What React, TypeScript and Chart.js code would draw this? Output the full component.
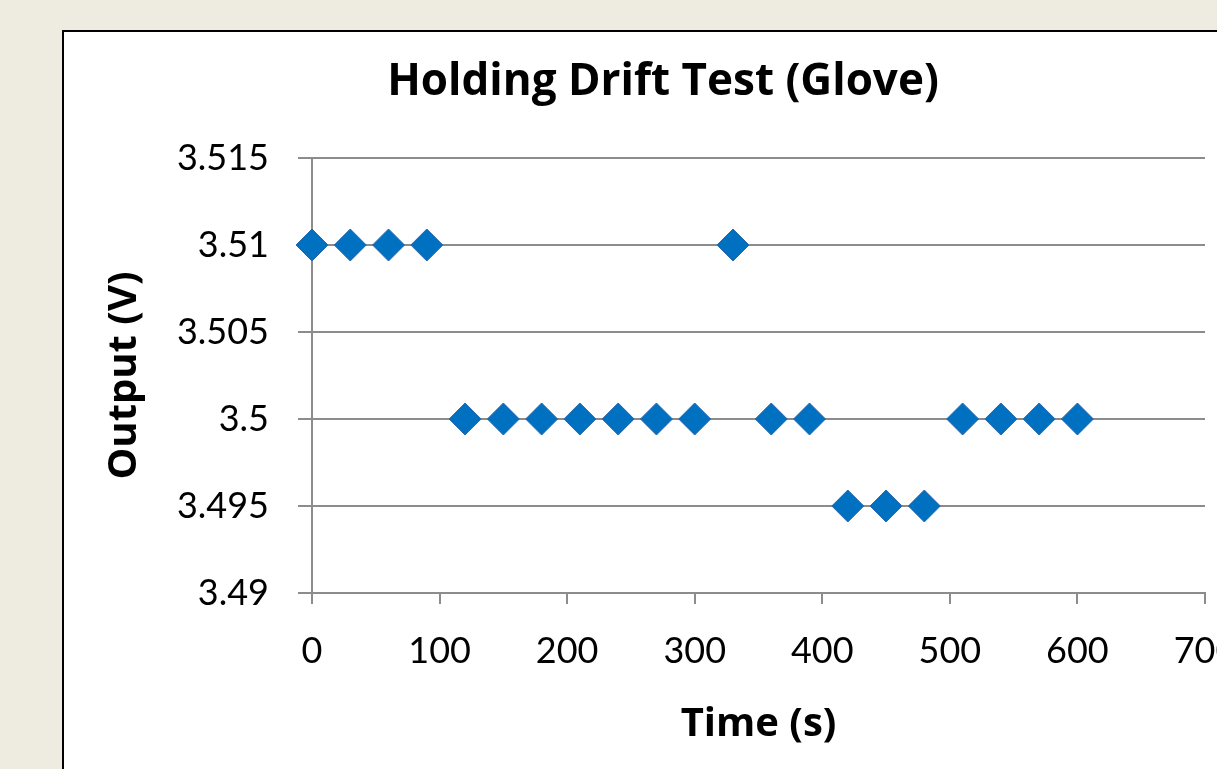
import React, { useEffect, useRef } from "react";
import { Chart, registerables } from "chart.js";

Chart.register(...registerables);

const TIME_S = [0, 30, 60, 90, 120, 150, 180, 210, 240, 270, 300, 330, 360, 390, 420, 450, 480, 510, 540, 570, 600];
const OUTPUT_V = [3.51, 3.51, 3.51, 3.51, 3.5, 3.5, 3.5, 3.5, 3.5, 3.5, 3.5, 3.51, 3.5, 3.5, 3.495, 3.495, 3.495, 3.5, 3.5, 3.5, 3.5];
const X_TICKS = [0, 100, 200, 300, 400, 500, 600, 700];
const X_TICK_LABELS = ["0", "100", "200", "300", "400", "500", "600", "700"];
const Y_TICKS = [3.49, 3.495, 3.5, 3.505, 3.51, 3.515];
const Y_TICK_LABELS = ["3.49", "3.495", "3.5", "3.505", "3.51", "3.515"];
const TITLE = "Holding Drift Test (Glove)";
const X_TITLE = "Time (s)";
const Y_TITLE = "Output (V)";

const FONT = "Lato, 'Open Sans', sans-serif";
const BOLD_FONT = "'Open Sans', Lato, sans-serif";
const GRID = "#8C8C8C";

// centre the chart title on the whole (white) chart box rather than the padded area
const centerTitlePlugin = {
  id: "centerTitle",
  afterLayout(chart: any) {
    const tb = chart.titleBlock;
    if (tb) {
      tb.left = 0;
      tb.right = chart.width;
      tb.width = chart.width;
    }
  },
};

export default function App() {
  const ref = useRef<HTMLCanvasElement>(null);

  useEffect(() => {
    const canvas = ref.current;
    if (!canvas) return;
    const chart = new Chart(canvas, {
      type: "scatter",
      data: {
        datasets: [
          {
            data: TIME_S.map((x, i) => ({ x, y: OUTPUT_V[i] })),
            pointStyle: "rectRot",
            pointRadius: 16,
            pointHoverRadius: 16,
            backgroundColor: "#0070C0",
            borderColor: "#2A66AE",
            borderWidth: 1,
            clip: false,
          },
        ],
      },
      options: {
        responsive: false,
        animation: false,
        devicePixelRatio: 1,
        layout: { padding: { left: 0, right: 59, top: 0, bottom: 0 } },
        plugins: {
          legend: { display: false },
          tooltip: { enabled: false },
          title: {
            display: true,
            text: TITLE,
            color: "#000",
            font: { family: BOLD_FONT, size: 44, weight: "bold", lineHeight: 1.2 },
            padding: { top: 56, bottom: 49.2 },
          },
        },
        scales: {
          x: {
            type: "linear",
            min: 0,
            max: 700,
            afterBuildTicks: (s: any) => {
              s.ticks = X_TICKS.map((v) => ({ value: v }));
            },
            afterFit: (s: any) => {
              s.height = 176;
            },
            ticks: {
              color: "#000",
              font: { family: FONT, size: 36, lineHeight: 1.2 },
              padding: 25.4,
              maxRotation: 0,
              autoSkip: false,
              callback: (v: any) => {
                const i = X_TICKS.indexOf(Number(v));
                return i >= 0 ? X_TICK_LABELS[i] : "";
              },
            },
            grid: { drawOnChartArea: false, drawTicks: true, tickLength: 11, color: GRID, lineWidth: 2 },
            border: { display: true, color: GRID, width: 2 },
            title: {
              display: true,
              text: X_TITLE,
              color: "#000",
              font: { family: BOLD_FONT, size: 40, weight: "bold", lineHeight: 1.2 },
              padding: { top: 0, bottom: 20.5 },
            },
          },
          y: {
            type: "linear",
            min: 3.49,
            max: 3.515,
            afterBuildTicks: (s: any) => {
              s.ticks = Y_TICKS.map((v) => ({ value: v }));
            },
            afterFit: (s: any) => {
              s.width = 250;
            },
            ticks: {
              color: "#000",
              font: { family: FONT, size: 36, lineHeight: 1.2 },
              padding: 29,
              autoSkip: false,
              callback: (v: any) => {
                const i = Y_TICKS.findIndex((t) => Math.abs(t - Number(v)) < 1e-9);
                return i >= 0 ? Y_TICK_LABELS[i] : "";
              },
            },
            grid: { drawOnChartArea: true, drawTicks: true, tickLength: 14, color: GRID, lineWidth: 2 },
            border: { display: true, color: GRID, width: 2 },
            title: {
              display: true,
              text: Y_TITLE,
              color: "#000",
              font: { family: BOLD_FONT, size: 40, weight: "bold", lineHeight: 1.2 },
              padding: { top: 39, bottom: 0 },
            },
          },
        },
      },
      plugins: [centerTitlePlugin],
    });
    return () => chart.destroy();
  }, []);

  return (
    <div style={{ position: "fixed", left: 0, top: 0, width: 1217, height: 769, background: "#EEECE1", overflow: "hidden" }}>
      <div
        style={{
          position: "absolute",
          left: 62,
          top: 30,
          width: 1300,
          height: 900,
          background: "#FFFFFF",
          border: "2px solid #000",
          boxSizing: "border-box",
        }}
      />
      <canvas
        ref={ref}
        width={1202}
        height={769}
        style={{ position: "absolute", left: 62, top: 0, width: 1202, height: 769 }}
      />
    </div>
  );
}
